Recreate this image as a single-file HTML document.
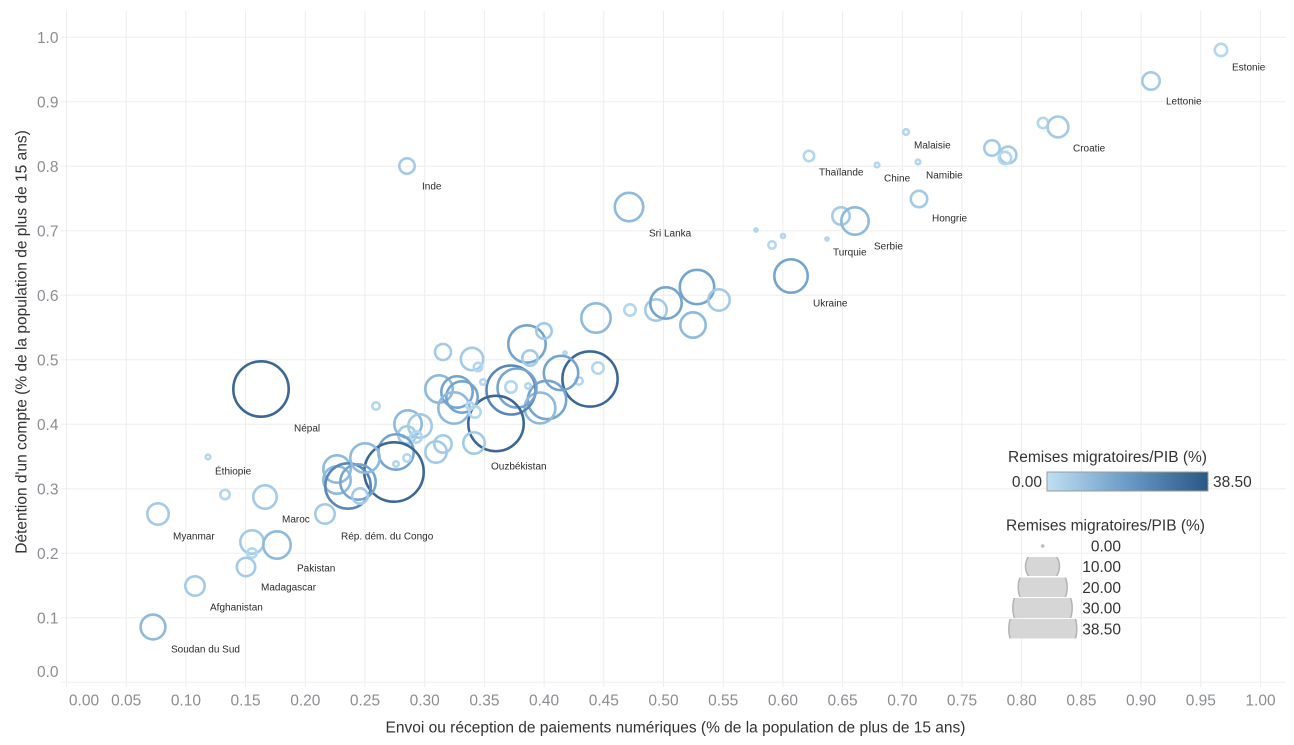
<!DOCTYPE html>
<html><head><meta charset="utf-8"><style>
html,body{margin:0;padding:0;background:#fff;}
svg{display:block;font-family:"Liberation Sans",Arial,sans-serif;}
.g{stroke:#ededed;stroke-width:1;}
.tk{font-size:15.5px;fill:#8a8e92;}
.ttl{font-size:15.5px;fill:#333;}
.lb{font-size:10px;fill:#2b2b2b;}
circle.b{fill:none;stroke-width:2.6;}
.c1{stroke:#b3d7ef;}
.c2{stroke:#a3cae7;}
.c3{stroke:#8dbade;}
.c4{stroke:#75a5cf;}
.c5{stroke:#5987b7;}
.c6{stroke:#3c6898;}
</style></head><body>
<svg width="1294" height="745" viewBox="0 0 1294 745" xmlns="http://www.w3.org/2000/svg">
<defs>
<linearGradient id="cg" x1="0" x2="1" y1="0" y2="0">
<stop offset="0" stop-color="#bfe0f3"/>
<stop offset="0.5" stop-color="#6a9ac6"/>
<stop offset="1" stop-color="#2a5783"/>
</linearGradient>
<clipPath id="r1"><rect x="1000" y="557" width="100" height="19"/></clipPath>
<clipPath id="r2"><rect x="1000" y="577.5" width="100" height="19.5"/></clipPath>
<clipPath id="r3"><rect x="1000" y="598" width="100" height="20"/></clipPath>
<clipPath id="r4"><rect x="1000" y="619" width="100" height="19.5"/></clipPath>
</defs>
<!-- vertical grid -->
<g class="g">
<line x1="66.5" y1="11" x2="66.5" y2="687"/>
<line x1="126.2" y1="11" x2="126.2" y2="687"/>
<line x1="185.9" y1="11" x2="185.9" y2="687"/>
<line x1="245.6" y1="11" x2="245.6" y2="687"/>
<line x1="305.3" y1="11" x2="305.3" y2="687"/>
<line x1="365" y1="11" x2="365" y2="687"/>
<line x1="424.7" y1="11" x2="424.7" y2="687"/>
<line x1="484.4" y1="11" x2="484.4" y2="687"/>
<line x1="544.1" y1="11" x2="544.1" y2="687"/>
<line x1="603.8" y1="11" x2="603.8" y2="687"/>
<line x1="663.5" y1="11" x2="663.5" y2="687"/>
<line x1="723.2" y1="11" x2="723.2" y2="687"/>
<line x1="782.9" y1="11" x2="782.9" y2="687"/>
<line x1="842.6" y1="11" x2="842.6" y2="687"/>
<line x1="902.3" y1="11" x2="902.3" y2="687"/>
<line x1="962" y1="11" x2="962" y2="687"/>
<line x1="1021.7" y1="11" x2="1021.7" y2="687"/>
<line x1="1081.4" y1="11" x2="1081.4" y2="687"/>
<line x1="1141.1" y1="11" x2="1141.1" y2="687"/>
<line x1="1200.8" y1="11" x2="1200.8" y2="687"/>
<line x1="1260.5" y1="11" x2="1260.5" y2="687"/>
<!-- horizontal grid -->
<line x1="61" y1="682.3" x2="1286" y2="682.3"/>
<line x1="61" y1="617.8" x2="1286" y2="617.8"/>
<line x1="61" y1="553.3" x2="1286" y2="553.3"/>
<line x1="61" y1="488.8" x2="1286" y2="488.8"/>
<line x1="61" y1="424.3" x2="1286" y2="424.3"/>
<line x1="61" y1="359.8" x2="1286" y2="359.8"/>
<line x1="61" y1="295.3" x2="1286" y2="295.3"/>
<line x1="61" y1="230.8" x2="1286" y2="230.8"/>
<line x1="61" y1="166.3" x2="1286" y2="166.3"/>
<line x1="61" y1="101.8" x2="1286" y2="101.8"/>
<line x1="61" y1="37.3" x2="1286" y2="37.3"/>
</g>
<!-- y tick labels -->
<g class="tk" text-anchor="end">
<text x="58.5" y="677">0.0</text>
<text x="58.5" y="623.3">0.1</text>
<text x="58.5" y="558.8">0.2</text>
<text x="58.5" y="494.3">0.3</text>
<text x="58.5" y="429.8">0.4</text>
<text x="58.5" y="365.3">0.5</text>
<text x="58.5" y="300.8">0.6</text>
<text x="58.5" y="236.3">0.7</text>
<text x="58.5" y="171.8">0.8</text>
<text x="58.5" y="107.3">0.9</text>
<text x="58.5" y="42.8">1.0</text>
</g>
<!-- x tick labels -->
<g class="tk" text-anchor="middle">
<text x="84" y="705.5">0.00</text>
<text x="126.2" y="705.5">0.05</text>
<text x="185.9" y="705.5">0.10</text>
<text x="245.6" y="705.5">0.15</text>
<text x="305.3" y="705.5">0.20</text>
<text x="365" y="705.5">0.25</text>
<text x="424.7" y="705.5">0.30</text>
<text x="484.4" y="705.5">0.35</text>
<text x="544.1" y="705.5">0.40</text>
<text x="603.8" y="705.5">0.45</text>
<text x="663.5" y="705.5">0.50</text>
<text x="723.2" y="705.5">0.55</text>
<text x="782.9" y="705.5">0.60</text>
<text x="842.6" y="705.5">0.65</text>
<text x="902.3" y="705.5">0.70</text>
<text x="962" y="705.5">0.75</text>
<text x="1021.7" y="705.5">0.80</text>
<text x="1081.4" y="705.5">0.85</text>
<text x="1141.1" y="705.5">0.90</text>
<text x="1200.8" y="705.5">0.95</text>
<text x="1260.5" y="705.5">1.00</text>
</g>
<!-- axis titles -->
<text class="ttl" x="675.5" y="732.5" text-anchor="middle">Envoi ou réception de paiements numériques (% de la population de plus de 15 ans)</text>
<text class="ttl" text-anchor="middle" transform="translate(26.5,342) rotate(-90)">Détention d'un compte (% de la population de plus de 15 ans)</text>

<!-- bubbles -->
<g>
<circle class="b c1" cx="1221" cy="50" r="6.2"/>
<circle class="b c2" cx="1151" cy="81" r="8.7"/>
<circle class="b c1" cx="1043" cy="123" r="5.2"/>
<circle class="b c2" cx="1058" cy="127" r="10.4"/>
<circle class="b c2" cx="992" cy="148" r="7.7"/>
<circle class="b c2" cx="1008" cy="155" r="8.4"/>
<circle class="b c1" cx="1005" cy="158" r="6.2"/>
<circle class="b c1" cx="906" cy="132" r="2.8"/>
<circle class="b c1" cx="809" cy="156" r="5.2"/>
<circle class="b c1" cx="877" cy="165" r="2.3"/>
<circle class="b c1" cx="918" cy="162" r="2.3"/>
<circle class="b c2" cx="919" cy="199" r="8.2"/>
<circle class="b c3" cx="629" cy="207" r="14.2"/>
<circle class="b c2" cx="841" cy="216" r="8.7"/>
<circle class="b c3" cx="855" cy="221" r="13.7"/>
<circle class="b c1" cx="827" cy="239" r="1.6"/>
<circle class="b c1" cx="756" cy="230" r="1.6"/>
<circle class="b c1" cx="783" cy="236" r="2"/>
<circle class="b c1" cx="772" cy="245" r="3.7"/>
<circle class="b c4" cx="791" cy="276" r="16.7"/>
<circle class="b c3" cx="596" cy="318" r="14.7"/>
<circle class="b c1" cx="630" cy="310" r="5.7"/>
<circle class="b c2" cx="656" cy="310" r="10.7"/>
<circle class="b c4" cx="666" cy="303" r="15.7"/>
<circle class="b c4" cx="697" cy="287" r="17.2"/>
<circle class="b c2" cx="719" cy="300" r="10.7"/>
<circle class="b c3" cx="693" cy="325" r="12.7"/>
<circle class="b c2" cx="407" cy="166" r="7.7"/>

<circle class="b c4" cx="527" cy="344" r="18.7"/>
<circle class="b c2" cx="544" cy="331" r="7.7"/>
<circle class="b c2" cx="530" cy="358" r="7.7"/>
<circle class="b c1" cx="565" cy="353" r="1.6"/>
<circle class="b c1" cx="598" cy="368" r="5.7"/>
<circle class="b c1" cx="579" cy="381" r="3.7"/>
<circle class="b c6" cx="590" cy="379" r="27.6"/>
<circle class="b c4" cx="561" cy="373" r="17.2"/>
<circle class="b c4" cx="547" cy="400" r="19.2"/>
<circle class="b c3" cx="540" cy="408" r="15.4"/>
<circle class="b c1" cx="511" cy="387" r="5.7"/>
<circle class="b c1" cx="528" cy="386" r="2.7"/>
<circle class="b c5" cx="511" cy="390" r="24.5"/>
<circle class="b c4" cx="517" cy="388" r="19.5"/>
<circle class="b c6" cx="496" cy="423.5" r="27.7"/>
<circle class="b c2" cx="474" cy="443" r="10.7"/>
<circle class="b c2" cx="472" cy="359" r="11.2"/>
<circle class="b c1" cx="478" cy="367" r="4.2"/>
<circle class="b c2" cx="443" cy="352" r="8"/>
<circle class="b c1" cx="483" cy="382" r="2.7"/>
<circle class="b c3" cx="439" cy="389" r="13.7"/>
<circle class="b c4" cx="457" cy="392" r="15.7"/>
<circle class="b c4" cx="462" cy="397" r="15.7"/>
<circle class="b c3" cx="454" cy="408" r="15.7"/>
<circle class="b c1" cx="470" cy="406" r="3.7"/>
<circle class="b c1" cx="475" cy="412" r="5.7"/>
<circle class="b c1" cx="376" cy="406" r="3.7"/>
<circle class="b c3" cx="408" cy="424" r="13.7"/>
<circle class="b c2" cx="420" cy="426" r="11.7"/>
<circle class="b c2" cx="407" cy="435" r="8.7"/>
<circle class="b c1" cx="416" cy="437" r="5.7"/>
<circle class="b c4" cx="396" cy="452" r="17.7"/>
<circle class="b c6" cx="394" cy="472" r="29.7"/>
<circle class="b c1" cx="396" cy="464" r="2.7"/>
<circle class="b c1" cx="407" cy="458" r="3.7"/>
<circle class="b c2" cx="436" cy="452" r="10.7"/>
<circle class="b c2" cx="443" cy="444" r="8.7"/>
<circle class="b c3" cx="337" cy="469" r="13.7"/>
<circle class="b c3" cx="337" cy="480" r="13.7"/>
<circle class="b c5" cx="348" cy="486" r="22.7"/>
<circle class="b c4" cx="358" cy="482" r="17.7"/>
<circle class="b c2" cx="360" cy="496" r="7.7"/>
<circle class="b c3" cx="365" cy="458" r="14.7"/>
<circle class="b c2" cx="325" cy="514" r="9.7"/>

<circle class="b c6" cx="261" cy="389" r="27.7"/>
<circle class="b c1" cx="208" cy="457" r="2.3"/>
<circle class="b c1" cx="225" cy="494.5" r="4.7"/>
<circle class="b c2" cx="265" cy="497" r="11.7"/>
<circle class="b c2" cx="158" cy="514" r="10.7"/>
<circle class="b c2" cx="252" cy="542" r="11.7"/>
<circle class="b c1" cx="252" cy="553" r="4.7"/>
<circle class="b c3" cx="277" cy="545" r="13.7"/>
<circle class="b c2" cx="246" cy="567" r="9.2"/>
<circle class="b c2" cx="195" cy="586" r="9.7"/>
<circle class="b c3" cx="153" cy="627" r="12.4"/>
</g>

<!-- country labels -->
<g class="lb">
<text x="1232" y="70.5">Estonie</text>
<text x="1166" y="104.5">Lettonie</text>
<text x="1073" y="151.5">Croatie</text>
<text x="914" y="148.5">Malaisie</text>
<text x="819" y="175.5">Thaïlande</text>
<text x="884" y="181.5">Chine</text>
<text x="926" y="178.5">Namibie</text>
<text x="932" y="221.5">Hongrie</text>
<text x="649" y="236.5">Sri Lanka</text>
<text x="874" y="249.5">Serbie</text>
<text x="833" y="255.5">Turquie</text>
<text x="813" y="306.5">Ukraine</text>
<text x="422" y="189.5">Inde</text>
<text x="491" y="469.5">Ouzbékistan</text>
<text x="294" y="431.5">Népal</text>
<text x="215" y="474.5">Éthiopie</text>
<text x="282" y="522.5">Maroc</text>
<text x="173" y="539.5">Myanmar</text>
<text x="341" y="539.5">Rép. dém. du Congo</text>
<text x="297" y="571.5">Pakistan</text>
<text x="261" y="590.5">Madagascar</text>
<text x="210" y="610.5">Afghanistan</text>
<text x="171" y="652.5">Soudan du Sud</text>
</g>

<!-- color legend -->
<text class="ttl" x="1008" y="462">Remises migratoires/PIB (%)</text>
<rect x="1047" y="472" width="161" height="19" fill="url(#cg)" stroke="#9a9a9a" stroke-width="1"/>
<text class="ttl" x="1042" y="487" text-anchor="end" fill="#333">0.00</text>
<text class="ttl" x="1213" y="487">38.50</text>

<!-- size legend -->
<text class="ttl" x="1006" y="530.5">Remises migratoires/PIB (%)</text>
<circle cx="1042.7" cy="546" r="1.8" fill="#bdbdbd"/>
<circle cx="1042.5" cy="566.3" r="17" fill="#d6d6d6" stroke="#b3b3b3" stroke-width="1.5" clip-path="url(#r1)"/>
<circle cx="1042.7" cy="587.2" r="24.5" fill="#d6d6d6" stroke="#b3b3b3" stroke-width="1.5" clip-path="url(#r2)"/>
<circle cx="1042.5" cy="608" r="29.7" fill="#d6d6d6" stroke="#b3b3b3" stroke-width="1.5" clip-path="url(#r3)"/>
<circle cx="1042.8" cy="628.7" r="34" fill="#d6d6d6" stroke="#b3b3b3" stroke-width="1.5" clip-path="url(#r4)"/>
<g class="ttl" text-anchor="end">
<text x="1121" y="551.5">0.00</text>
<text x="1121" y="572.2">10.00</text>
<text x="1121" y="592.8">20.00</text>
<text x="1121" y="613.5">30.00</text>
<text x="1121" y="634.5">38.50</text>
</g>
</svg>
</body></html>
